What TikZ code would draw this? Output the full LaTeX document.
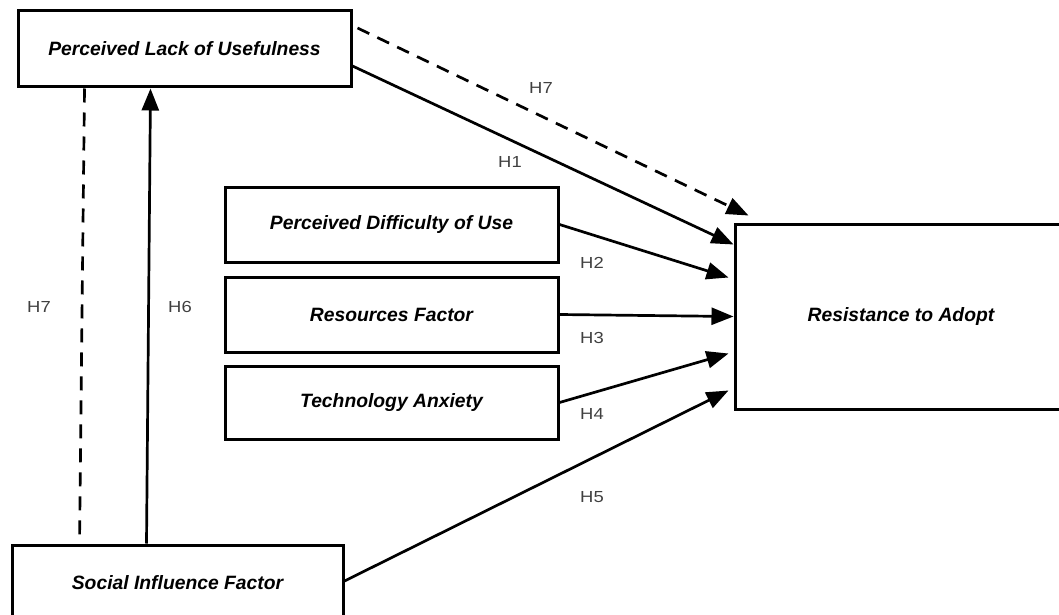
\documentclass[tikz,border=0pt]{standalone}
\usepackage{fontspec}
\setmainfont{Liberation Sans}
\newfontfamily\hfont{Liberation Sans}[FakeStretch=1.15]
\usetikzlibrary{arrows.meta}
\usetikzlibrary{calc}
\definecolor{LabelGray}{rgb}{0.25,0.25,0.25}

\tikzset{
  factor/.style={draw, line width=3pt, minimum width=333pt, minimum height=75pt,
    inner sep=0pt, font=\fontsize{19.3}{22}\selectfont\bfseries\itshape},
  path/.style={line width=2.7pt, -{Triangle[length=22pt,width=17pt]}},
  dpath/.style={path, dash pattern=on 13pt off 9pt},
  hyp/.style={font=\hfont\fontsize{16}{18}\selectfont, text=LabelGray, inner sep=0pt}
}

\begin{document}
\begin{tikzpicture}[x=1pt,y=-1pt]
      \useasboundingbox (0,0) rectangle (1059,615);
      % constructs
      \node[factor, minimum height=76pt] (plu) at (184.5,49) {Perceived Lack of Usefulness};
      \node[factor] (pdu) at (391.5,224.5) {Perceived Difficulty of Use};
      \node[factor] (rf) at (391.5,314.5) {Resources Factor};
      \node[factor, minimum height=73pt] (ta) at (391.5,402.5) {Technology Anxiety};
      \node[factor, minimum width=332pt, minimum height=185pt] (ra) at (901,316.5) {Resistance to Adopt};
      \node[factor, minimum width=331pt, minimum height=76pt] (sif) at (177.5,583) {Social Influence Factor};
      % hypotheses
      \draw[dpath] ($(plu.east)+(5,-21)$) -- ($(ra.north west)+(15,-7)$);
      \draw[path] ($(plu.east)+(0,17)$) -- ($(ra.north west)+(0,22)$);
      \draw[path] (pdu.east) -- ($(ra.north west)+(-5,55)$);
      \draw[path] (rf.east) -- (ra.west);
      \draw[path] (ta.east) -- ($(ra.west)+(-5,37)$);
      \draw[path] ($(sif.east)+(0,-2)$) -- ($(ra.west)+(-5,74)$);
      \draw[path] ($(sif.north west)+(136,0)$) -- ($(plu.south west)+(134,0)$);
      \draw[line width=2.7pt, dash pattern=on 14pt off 10pt] ($(plu.south west)+(68,0)$) -- ($(sif.north west)+(69,0)$);
      % labels
      \node[hyp] (h7a) at (541,88) {H7};
      \node[hyp] (h1) at (510,162) {H1};
      \node[hyp] (h2) at (592,263) {H2};
      \node[hyp] (h3) at (592,338) {H3};
      \node[hyp] (h4) at (592,414) {H4};
      \node[hyp] (h5) at (592,497) {H5};
      \node[hyp] (h7b) at (39,307) {H7};
      \node[hyp] (h6) at (180,307) {H6};
\end{tikzpicture}
\end{document}
